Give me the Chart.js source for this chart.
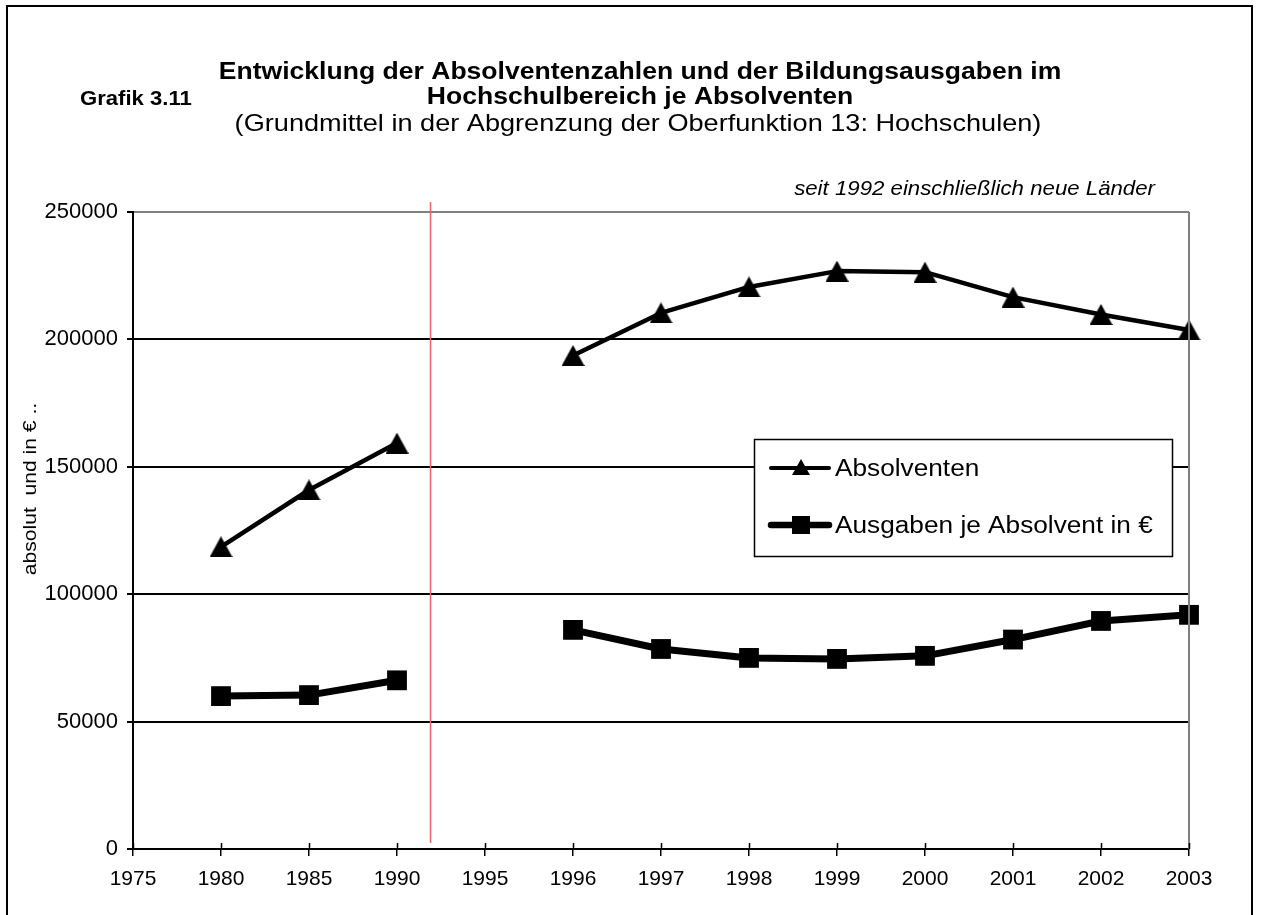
<!DOCTYPE html>
<html>
<head>
<meta charset="utf-8">
<script src="https://cdn.jsdelivr.net/npm/chart.js@4.4.1/dist/chart.umd.min.js"></script>
<style>
  html, body { margin: 0; padding: 0; background: #fff; }
</style>
</head>
<body>
<canvas id="chart" width="1261" height="915"></canvas>
<script>
// Daten
const jahre = ['1975', '1980', '1985', '1990', '1995', '1996', '1997', '1998', '1999', '2000', '2001', '2002', '2003'];
const absolventen = [null, 118600, 140900, 159300, null, 193700, 210400, 220600, 226800, 226400, 216600, 209800, 203700];
const ausgaben = [null, 60000, 60400, 66200, null, 86000, 78500, 75000, 74600, 75800, 82200, 89500, 91900];
const yMax = 250000;
const yStep = 50000;
const trennlinie = 3.37; // seit 1992, zwischen 1990 und 1995

const schrift = '"Liberation Sans", Arial, Helvetica, sans-serif';
const breite = 1.14; // Text im Original leicht in die Breite gezogen

// Dreieck-Marker (Mitte = Datenpunkt, wie bei Excel)
function dreieck(w, h) {
    const c = document.createElement('canvas');
    c.width = w;
    c.height = h;
    const g = c.getContext('2d');
    g.fillStyle = '#000';
    g.beginPath();
    g.moveTo(w / 2, 0);
    g.lineTo(w, h);
    g.lineTo(0, h);
    g.closePath();
    g.fill();
    return c;
}
const dreieckGross = dreieck(23, 21);

// Text mit horizontaler Streckung zeichnen
function text(ctx, str, x, y, font, align, rot) {
    ctx.save();
    ctx.translate(x, y);
    if (rot) ctx.rotate(rot);
    ctx.scale(breite, 1);
    ctx.font = font;
    ctx.textAlign = align;
    ctx.textBaseline = 'middle';
    ctx.fillStyle = '#000';
    ctx.fillText(str, 0, 0);
    ctx.restore();
}

const extras = {
    id: 'extras',
    beforeDraw(chart) {
        const ctx = chart.ctx;
        ctx.save();
        ctx.fillStyle = '#fff';
        ctx.fillRect(0, 0, chart.width, chart.height);
        ctx.restore();
    },
    afterDraw(chart) {
        const ctx = chart.ctx;
        const area = chart.chartArea;
        const x = chart.scales.x;
        ctx.save();

        // rechter Rand der Zeichenfläche
        ctx.strokeStyle = '#808080';
        ctx.lineWidth = 2;
        ctx.beginPath();
        ctx.moveTo(area.right, area.top);
        ctx.lineTo(area.right, area.bottom);
        ctx.stroke();

        // Teilstriche der x-Achse nach innen
        ctx.strokeStyle = '#000';
        ctx.lineWidth = 1.5;
        x.ticks.forEach((t, i) => {
            const px = Math.round(x.getPixelForTick(i)) + 0.5;
            ctx.beginPath();
            ctx.moveTo(px, area.bottom - 6);
            ctx.lineTo(px, area.bottom);
            ctx.stroke();
        });

        // rote Trennlinie (seit 1992)
        const rx = Math.round(x.getPixelForValue(trennlinie)) + 0.5;
        ctx.strokeStyle = 'rgb(240, 100, 100)';
        ctx.lineWidth = 1.5;
        ctx.beginPath();
        ctx.moveTo(rx, area.top - 10);
        ctx.lineTo(rx, area.bottom - 6);
        ctx.stroke();

        // Legende
        const lx = 754, ly = 439, lw = 418, lh = 117;
        ctx.fillStyle = '#fff';
        ctx.fillRect(lx, ly, lw, lh);
        ctx.strokeStyle = '#000';
        ctx.lineWidth = 1.5;
        ctx.strokeRect(lx + 0.5, ly + 0.5, lw, lh);

        const ds = chart.data.datasets;
        const zeilen = [ly + 29, ly + 86];
        ctx.lineCap = 'round';
        ds.forEach((d, i) => {
            const y = zeilen[i];
            ctx.strokeStyle = '#000';
            ctx.lineWidth = i === 0 ? 4 : 6.5;
            ctx.beginPath();
            ctx.moveTo(lx + 17, y);
            ctx.lineTo(lx + 75, y);
            ctx.stroke();
            ctx.fillStyle = '#000';
            if (i === 0) {
                ctx.beginPath();
                ctx.moveTo(lx + 47, y - 9);
                ctx.lineTo(lx + 56, y + 7);
                ctx.lineTo(lx + 38, y + 7);
                ctx.closePath();
                ctx.fill();
            } else {
                ctx.fillRect(lx + 38, y - 9, 18, 18);
            }
            text(ctx, d.label, lx + 81, y + 2, '23px ' + schrift, 'left');
        });

        // Titel
        text(ctx, 'Entwicklung der Absolventenzahlen und der Bildungsausgaben im', 640, 73, 'bold 23.3px ' + schrift, 'center');
        text(ctx, 'Hochschulbereich je Absolventen', 640, 98, 'bold 23.3px ' + schrift, 'center');
        text(ctx, '(Grundmittel in der Abgrenzung der Oberfunktion 13: Hochschulen)', 638, 124, '23.8px ' + schrift, 'center');
        text(ctx, 'Grafik 3.11', 80, 100, 'bold 19.4px ' + schrift, 'left');
        text(ctx, 'seit 1992 einschließlich neue Länder', 1155, 190, 'italic 19.5px ' + schrift, 'right');

        // Achsentitel
        text(ctx, 'absolut  und in € ..', 31, 489, '18.5px ' + schrift, 'center', -Math.PI / 2);

        // Rahmen
        ctx.strokeStyle = '#000';
        ctx.lineWidth = 2;
        ctx.strokeRect(7, 6, 1245, 920);

        ctx.restore();
    }
};

const chart = new Chart(document.getElementById('chart'), {
    type: 'line',
    data: {
        labels: jahre,
        datasets: [{
            label: 'Absolventen',
            data: absolventen,
            borderColor: '#000',
            backgroundColor: '#000',
            borderWidth: 4.5,
            borderJoinStyle: 'round',
            pointStyle: dreieckGross,
            pointRadius: 11,
            spanGaps: false,
            tension: 0,
            clip: false
        }, {
            label: 'Ausgaben je Absolvent in €',
            data: ausgaben,
            borderColor: '#000',
            backgroundColor: '#000',
            borderWidth: 7,
            borderJoinStyle: 'round',
            pointStyle: 'rect',
            pointRadius: 14,
            pointBorderWidth: 0,
            pointBackgroundColor: '#000',
            spanGaps: false,
            tension: 0,
            clip: false
        }]
    },
    options: {
        responsive: false,
        devicePixelRatio: 1,
        animation: false,
        layout: { padding: { left: 0, top: 212, right: 72, bottom: 0 } },
        plugins: {
            legend: { display: false },
            title: { display: false },
            tooltip: { enabled: false }
        },
        scales: {
            x: {
                type: 'category',
                offset: false,
                grid: {
                    drawOnChartArea: false,
                    color: '#000',
                    lineWidth: 1.5,
                    tickLength: 7
                },
                border: { color: '#000', width: 2 },
                ticks: {
                    color: '#000',
                    font: { family: schrift, size: 21 },
                    padding: 11,
                    maxRotation: 0,
                    autoSkip: false
                },
                afterFit(s) { s.height = 66; }
            },
            y: {
                min: 0,
                max: yMax,
                grid: {
                    color: c => (c.tick && c.tick.value === yMax) ? '#808080' : '#000',
                    lineWidth: 2,
                    tickColor: '#000',
                    tickLength: 6
                },
                border: { color: '#000', width: 2 },
                ticks: {
                    stepSize: yStep,
                    color: '#000',
                    font: { family: schrift, size: 22 },
                    padding: 9,
                    callback: v => String(v)
                },
                afterFit(s) { s.width = 133; }
            }
        }
    },
    plugins: [extras]
});
</script>
</body>
</html>
